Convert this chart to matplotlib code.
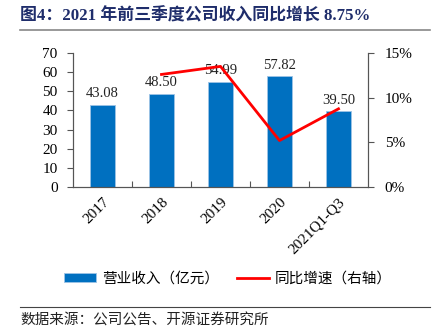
import matplotlib
matplotlib.use("Agg")
import matplotlib.pyplot as plt
from matplotlib.ticker import FuncFormatter

plt.rcParams['font.family'] = ['Liberation Serif', 'Noto Sans CJK SC']

# 数据
years = ["2017", "2018", "2019", "2020", "2021Q1-Q3"]
revenue = [43.08, 48.50, 54.99, 57.82, 39.50]
growth_years = [1, 2, 3, 4]
growth = [12.6, 13.5, 5.2, 8.75]

title = "图4：2021 年前三季度公司收入同比增长 8.75%"
source = "数据来源：公司公告、开源证券研究所"

fig = plt.figure(figsize=(4.4, 3.33), dpi=100)
ax = fig.add_axes([73/440, 1 - 187/333, 295/440, 134/333])
ax2 = ax.twinx()

x = list(range(len(years)))
bars = ax.bar(x, revenue, width=0.41, color="#0070C0", edgecolor="#9DC3E6",
              linewidth=0.6, label="营业收入（亿元）", zorder=2)
for i, v in enumerate(revenue):
    ax.text(i, v + 2.5, f"{v:.2f}", ha="center", va="bottom", fontsize=10.5,
            color="#222222", zorder=1)

ax2.plot(growth_years, growth, color="#FF0000", linewidth=2,
         label="同比增速（右轴）")

ax.set_xlim(-0.5, 4.5)
ax.set_ylim(0, 70)
ax.set_yticks(range(0, 71, 10))
ax2.set_ylim(0, 15)
ax2.set_yticks([0, 5, 10, 15])
ax2.yaxis.set_major_formatter(FuncFormatter(lambda v, p: f"{v:.0f}%"))

ax.set_xticks([i + 0.5 for i in range(len(years) - 1)])
ax.set_xticklabels([])
ax.set_xticks(x, minor=True)
ax.set_xticklabels(years, minor=True, rotation=45, ha="right",
                   rotation_mode="anchor", fontsize=11)
ax.tick_params(axis="x", which="major", direction="in", length=4, color="#555555")
ax.tick_params(axis="x", which="minor", length=0, pad=6)
ax.tick_params(axis="y", direction="out", length=4, labelsize=11, pad=7, color="#555555")
ax2.tick_params(axis="y", direction="out", length=4, labelsize=11, pad=8, color="#555555")

for a in (ax, ax2):
    a.spines["top"].set_visible(False)
    for s in ("left", "right", "bottom"):
        a.spines[s].set_color("#555555")
        a.spines[s].set_linewidth(0.8)

h1, l1 = ax.get_legend_handles_labels()
h2, l2 = ax2.get_legend_handles_labels()
fig.legend(h1 + h2, l1 + l2, loc="center", bbox_to_anchor=(228/440, 1 - 279/333),
           ncol=2, frameon=False, handlelength=2.2, handleheight=0.6,
           handletextpad=0.4, columnspacing=1.2,
           prop={"family": "Noto Sans CJK SC", "size": 10.5})

fig.text(20/440, 1 - 16/333, title, fontsize=12.2, fontweight="bold",
         color="#1F2D6B", va="center", ha="left")
fig.add_artist(plt.Line2D([20/440, 430/440], [1 - 30/333, 1 - 30/333],
                          color="#888888", linewidth=1.2))
fig.add_artist(plt.Line2D([20/440, 430/440], [1 - 307/333, 1 - 307/333],
                          color="#444444", linewidth=0.8))
fig.text(20/440, 1 - 321/333, source, fontsize=10.5, color="#222222",
         va="center", ha="left", family="Noto Sans CJK SC")

fig.savefig("out.png", dpi=100)
